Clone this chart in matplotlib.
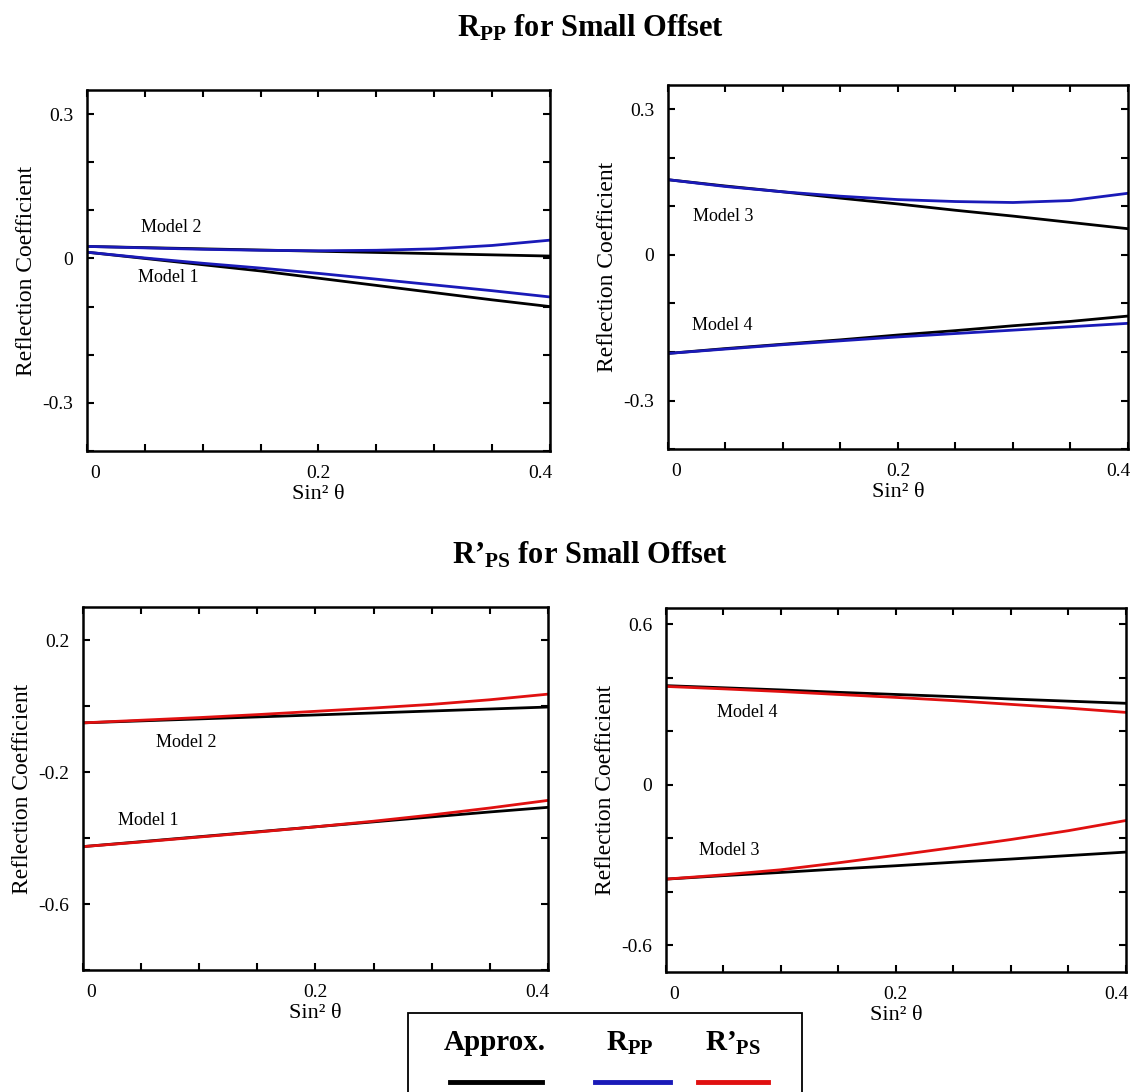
import matplotlib
matplotlib.use("Agg")
import matplotlib.pyplot as plt
from matplotlib.lines import Line2D
from matplotlib.patches import Rectangle
from matplotlib.transforms import ScaledTranslation

plt.rcParams['font.family'] = ['Liberation Serif', 'DejaVu Serif']
plt.rcParams['mathtext.fontset'] = 'custom'
plt.rcParams['mathtext.rm'] = 'Liberation Serif'
plt.rcParams['mathtext.bf'] = 'Liberation Serif:bold'
plt.rcParams['mathtext.it'] = 'Liberation Serif:italic'

# sin^2(theta) sample points
sin2 = [0, 0.05, 0.1, 0.15, 0.2, 0.25, 0.3, 0.35, 0.4]

# Rpp, models 1 and 2
pp_m1_approx = [0.013, 0.0, -0.013, -0.026, -0.041, -0.056, -0.071, -0.086, -0.100]
pp_m1_exact = [0.013, 0.001, -0.010, -0.020, -0.031, -0.043, -0.055, -0.067, -0.080]
pp_m2_approx = [0.025, 0.0225, 0.020, 0.0175, 0.015, 0.0125, 0.010, 0.0075, 0.005]
pp_m2_exact = [0.025, 0.022, 0.019, 0.017, 0.016, 0.017, 0.020, 0.027, 0.038]

# Rpp, models 3 and 4
pp_m3_approx = [0.155, 0.142, 0.130, 0.117, 0.105, 0.092, 0.080, 0.067, 0.054]
pp_m3_exact = [0.155, 0.141, 0.130, 0.121, 0.114, 0.110, 0.108, 0.112, 0.127]
pp_m4_approx = [-0.203, -0.193, -0.184, -0.175, -0.165, -0.156, -0.146, -0.137, -0.126]
pp_m4_exact = [-0.203, -0.194, -0.185, -0.177, -0.169, -0.162, -0.155, -0.148, -0.141]

# R'ps, models 1 and 2
ps_m1_approx = [-0.426, -0.411, -0.396, -0.381, -0.366, -0.351, -0.336, -0.321, -0.307]
ps_m1_exact = [-0.426, -0.412, -0.397, -0.382, -0.366, -0.349, -0.330, -0.309, -0.286]
ps_m2_approx = [-0.051, -0.045, -0.039, -0.033, -0.027, -0.021, -0.015, -0.009, -0.003]
ps_m2_exact = [-0.051, -0.043, -0.035, -0.026, -0.016, -0.006, 0.005, 0.019, 0.036]

# R'ps, models 3 and 4
ps_m3_approx = [-0.353, -0.340, -0.328, -0.315, -0.303, -0.290, -0.278, -0.265, -0.252]
ps_m3_exact = [-0.353, -0.337, -0.318, -0.292, -0.264, -0.235, -0.205, -0.172, -0.134]
ps_m4_approx = [0.370, 0.362, 0.354, 0.345, 0.337, 0.329, 0.320, 0.312, 0.304]
ps_m4_exact = [0.367, 0.358, 0.348, 0.337, 0.326, 0.314, 0.300, 0.286, 0.270]

x_ticks = [0, 0.05, 0.1, 0.15, 0.2, 0.25, 0.3, 0.35, 0.4]
x_labels = ['0', '', '', '', '0.2', '', '', '', '0.4']

BLUE = '#1a1ab8'
RED = '#e01010'


def setup_axes(ax, ylim, yticks, ylabels):
    ax.set_xlim(0, 0.4)
    ax.set_ylim(*ylim)
    ax.set_xticks(x_ticks)
    ax.set_xticklabels(x_labels)
    ax.set_yticks(yticks)
    ax.set_yticklabels(ylabels)
    ax.tick_params(direction='in', top=True, right=True, length=5, width=1.5,
                   labelsize=14, pad=10, colors='black')
    for s in ax.spines.values():
        s.set_linewidth(1.8)
    ax.set_xlabel('Sin² θ', fontsize=16, labelpad=2)
    ax.set_ylabel('Reflection Coefficient', fontsize=17, labelpad=4)
    # end labels sit a little inside the box, as in the original
    labs = ax.get_xticklabels()
    labs[0].set_transform(labs[0].get_transform() + ScaledTranslation(8 / 100, 0, fig.dpi_scale_trans))
    labs[-1].set_transform(labs[-1].get_transform() + ScaledTranslation(-10 / 100, 0, fig.dpi_scale_trans))


def draw_pair(ax, approx, exact, color):
    ax.plot(sin2, approx, color='black', lw=2)
    ax.plot(sin2, exact, color=color, lw=2)


fig = plt.figure(figsize=(11.31, 10.92), dpi=100)

ax1 = fig.add_axes([0.0769, 0.587, 0.4094, 0.3306])
ax2 = fig.add_axes([0.5906, 0.5888, 0.4067, 0.3333])
ax3 = fig.add_axes([0.0734, 0.1117, 0.411, 0.3324])
ax4 = fig.add_axes([0.5888, 0.1099, 0.4067, 0.3333])

pp_ticks = [-0.4, -0.3, -0.2, -0.1, 0, 0.1, 0.2, 0.3]
pp_labels = ['', '-0.3', '', '', '0', '', '', '0.3']

setup_axes(ax1, (-0.4, 0.35), pp_ticks, pp_labels)
draw_pair(ax1, pp_m2_approx, pp_m2_exact, BLUE)
draw_pair(ax1, pp_m1_approx, pp_m1_exact, BLUE)
ax1.text(0.047, 0.065, 'Model 2', fontsize=13, va='center')
ax1.text(0.044, -0.04, 'Model 1', fontsize=13, va='center')

setup_axes(ax2, (-0.4, 0.35), pp_ticks, pp_labels)
draw_pair(ax2, pp_m3_approx, pp_m3_exact, BLUE)
draw_pair(ax2, pp_m4_approx, pp_m4_exact, BLUE)
ax2.text(0.022, 0.08, 'Model 3', fontsize=13, va='center')
ax2.text(0.021, -0.145, 'Model 4', fontsize=13, va='center')

setup_axes(ax3, (-0.8, 0.3), [-0.8, -0.6, -0.4, -0.2, 0, 0.2],
           ['', '-0.6', '', '-0.2', '', '0.2'])
draw_pair(ax3, ps_m2_approx, ps_m2_exact, RED)
draw_pair(ax3, ps_m1_approx, ps_m1_exact, RED)
ax3.text(0.063, -0.109, 'Model 2', fontsize=13, va='center')
ax3.text(0.03, -0.347, 'Model 1', fontsize=13, va='center')

setup_axes(ax4, (-0.7, 0.66), [-0.6, -0.4, -0.2, 0, 0.2, 0.4, 0.6],
           ['-0.6', '', '', '0', '', '', '0.6'])
draw_pair(ax4, ps_m4_approx, ps_m4_exact, RED)
draw_pair(ax4, ps_m3_approx, ps_m3_exact, RED)
ax4.text(0.044, 0.269, 'Model 4', fontsize=13, va='center')
ax4.text(0.029, -0.247, 'Model 3', fontsize=13, va='center')

# section titles
fig.text(0.5217, 0.974, r'R$_{\mathbf{PP}}$ for Small Offset', fontsize=22,
         fontweight='bold', ha='center', va='center')
fig.text(0.5217, 0.4918, r'R’$_{\mathbf{PS}}$ for Small Offset', fontsize=22,
         fontweight='bold', ha='center', va='center')

# hand-made legend box at the bottom
fig.patches.append(Rectangle((0.3607, -0.02), 0.3484, 0.0923, transform=fig.transFigure,
                             fill=False, edgecolor='black', lw=1.3))
fig.text(0.4377, 0.0449, 'Approx.', fontsize=21, fontweight='bold', ha='center', va='center')
fig.text(0.557, 0.0449, r'R$_{\mathbf{PP}}$', fontsize=21, fontweight='bold',
         ha='center', va='center')
fig.text(0.648, 0.0449, r'R’$_{\mathbf{PS}}$', fontsize=21, fontweight='bold',
         ha='center', va='center')
fig.add_artist(Line2D([0.3979, 0.4792], [0.0092, 0.0092], color='black', lw=3.5))
fig.add_artist(Line2D([0.5261, 0.5924], [0.0092, 0.0092], color=BLUE, lw=3.5))
fig.add_artist(Line2D([0.6172, 0.6790], [0.0092, 0.0092], color=RED, lw=3.5))

fig.savefig('out.png', dpi=100)
